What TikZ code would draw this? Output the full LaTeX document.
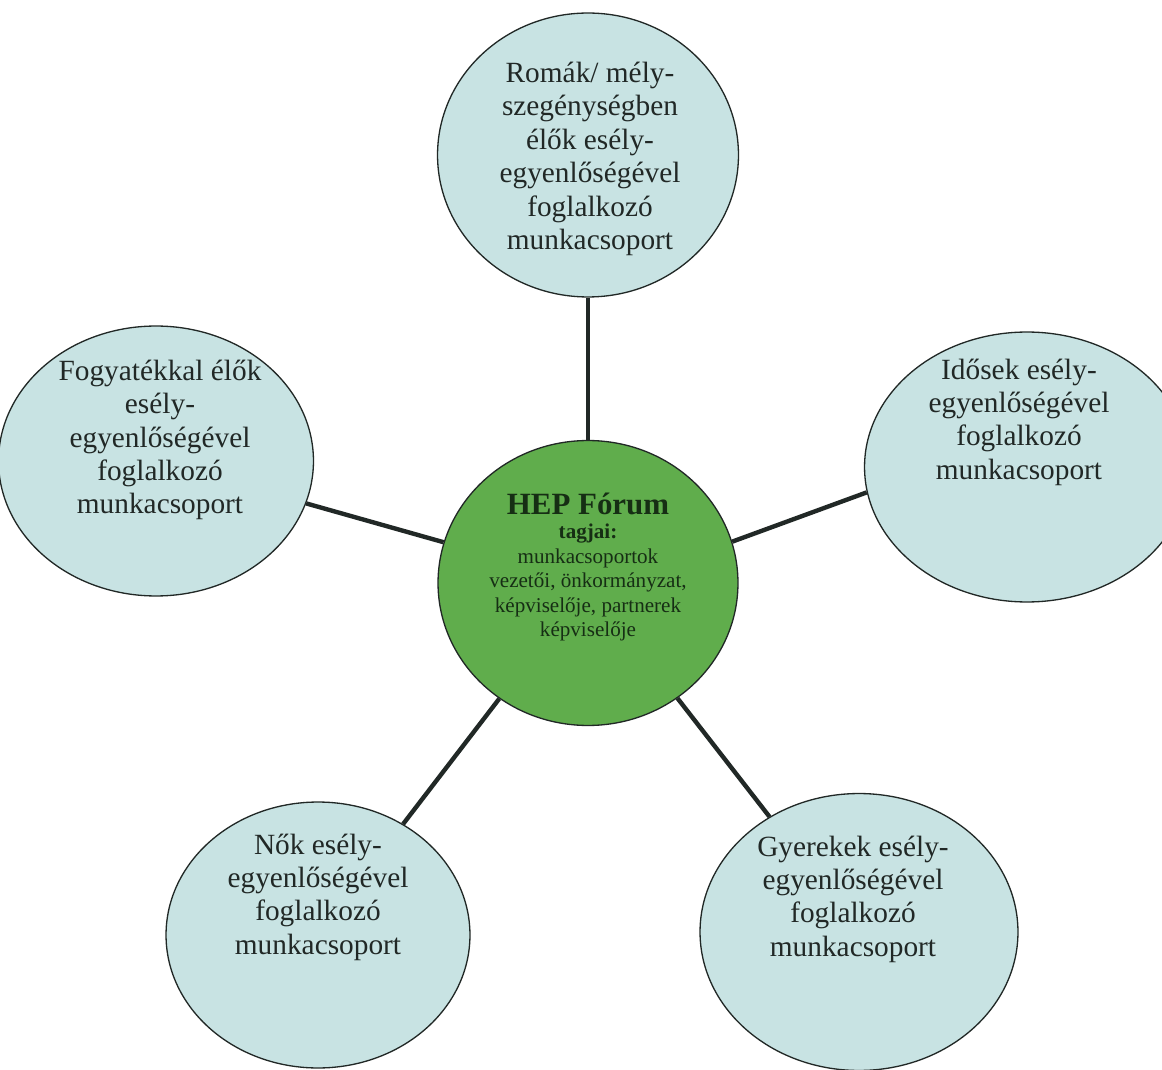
\documentclass[tikz,border=0pt]{standalone}
\usepackage{fontspec}
\setmainfont{Liberation Serif}
\definecolor{grpblue}{RGB}{200,227,227}
\definecolor{forumgreen}{RGB}{96,173,76}
\definecolor{inkdark}{RGB}{33,40,38}
\definecolor{forumink}{RGB}{22,46,20}
\usetikzlibrary{shapes.geometric}

\begin{document}
\begin{tikzpicture}[
  x=0.02cm, y=-0.02cm,
  grp/.style={
    ellipse, inner sep=0pt,
    draw=inkdark, line width=0.75pt,
    fill=grpblue
  },
  grptext/.style={
    align=center, text=inkdark,
    font=\fontsize{16.7}{19}\selectfont
  },
  forum/.style={grp, fill=forumgreen},
  link/.style={draw=inkdark, line width=2.5pt}
]
\clip (0,0) rectangle (1162,1070);
\fill[white] (0,0) rectangle (1162,1070);

% the five working groups round the forum
\node[forum, minimum width=6.0cm,  minimum height=5.7cm]  (hep)   at (588,583) {};
\node[grp,   minimum width=6.02cm, minimum height=5.68cm] (roma)  at (588,155) {};
\node[grp,   minimum width=6.3cm,  minimum height=5.4cm]  (fogy)  at (156,461) {};
\node[grp,   minimum width=6.5cm,  minimum height=5.4cm]  (idos)  at (1027,467) {};
\node[grp,   minimum width=6.08cm, minimum height=5.32cm] (nok)   at (318,935) {};
\node[grp,   minimum width=6.36cm, minimum height=5.54cm] (gyer)  at (859,932) {};

\draw[link] (hep) -- (roma);
\draw[link] (hep) -- (fogy);
\draw[link] (hep.16) -- (idos.189);
\draw[link] (hep) -- (nok);
\draw[link] (hep) -- (gyer);

% texts
\node[grptext] (roma-t) at (590,159)
  {Romák/ mély-\\szegénységben\\élők esély-\\egyenlőségével\\foglalkozó\\munkacsoport};
\node[grptext] (fogy-t) at (160,440)
  {Fogyatékkal élők\\esély-\\egyenlőségével\\foglalkozó\\munkacsoport};
\node[grptext] (idos-t) at (1019,422)
  {Idősek esély-\\egyenlőségével\\foglalkozó\\munkacsoport};
\node[grptext] (nok-t) at (318,897)
  {Nők esély-\\egyenlőségével\\foglalkozó\\munkacsoport};
\node[grptext] (gyer-t) at (853,899)
  {Gyerekek esély-\\egyenlőségével\\foglalkozó\\munkacsoport};
\node[align=center, text=forumink, font=\fontsize{12}{14}\selectfont] (hep-t) at (588,567)
  {{\bfseries\fontsize{17.6}{14}\selectfont HEP Fórum}\\
   \textbf{tagjai:}\\munkacsoportok\\vezetői, önkormányzat,\\képviselője, partnerek\\képviselője};
\end{tikzpicture}
\end{document}
